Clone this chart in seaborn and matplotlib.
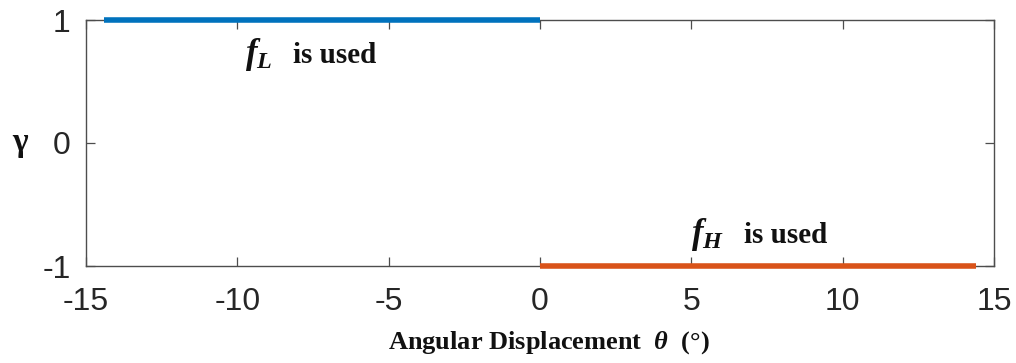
import matplotlib
matplotlib.use("Agg")
import matplotlib.pyplot as plt
import seaborn as sns
import pandas as pd

# Switching curve: gamma = +1 for negative displacement (low frequency),
# gamma = -1 for positive displacement (high frequency)
theta_low = [-14.4, 0.0]
gamma_low = [1, 1]
theta_high = [0.0, 14.4]
gamma_high = [-1, -1]

x_ticks = [-15, -10, -5, 0, 5, 10, 15]
y_ticks = [-1, 0, 1]

sns.set_theme(style="white")
plt.rcParams["font.family"] = ["Liberation Sans", "DejaVu Sans"]
plt.rcParams["axes.unicode_minus"] = False
plt.rcParams["mathtext.fontset"] = "custom"
plt.rcParams["mathtext.rm"] = "Liberation Serif:bold"
plt.rcParams["mathtext.it"] = "Liberation Serif:italic:bold"
plt.rcParams["mathtext.bf"] = "Liberation Serif:bold"

df_low = pd.DataFrame({"theta": theta_low, "gamma": gamma_low})
df_high = pd.DataFrame({"theta": theta_high, "gamma": gamma_high})

fig = plt.figure(figsize=(10.16, 3.63), dpi=100)
ax = fig.add_axes([86 / 1016, 1 - 266 / 363, 908 / 1016, 246 / 363])

sns.lineplot(data=df_low, x="theta", y="gamma", ax=ax, color="#0072BD",
             linewidth=4.0, clip_on=False, zorder=5, solid_capstyle="butt")
sns.lineplot(data=df_high, x="theta", y="gamma", ax=ax, color="#D95319",
             linewidth=4.0, clip_on=False, zorder=5, solid_capstyle="butt")

ax.set_xlim(-15, 15)
ax.set_ylim(-1, 1)
ax.set_xticks(x_ticks)
ax.set_yticks(y_ticks)
ax.set_xticklabels([str(v) for v in x_ticks])
ax.set_yticklabels([str(v) for v in y_ticks])

for side in ["top", "bottom", "left", "right"]:
    ax.spines[side].set_visible(True)
    ax.spines[side].set_color("#4d4d4d")
    ax.spines[side].set_linewidth(1.0)

ax.tick_params(axis="both", which="both", direction="in", length=6.5,
               width=0.9, color="#4d4d4d", labelsize=23, labelcolor="#262626",
               top=True, right=True, bottom=True, left=True)
ax.tick_params(axis="x", pad=15)
ax.tick_params(axis="y", pad=11)

serif = ["Liberation Serif", "DejaVu Serif"]
ax.set_xlabel(r"Angular Displacement  $\theta$  (°)", fontsize=19,
              fontweight="bold", family=serif, color="#111111")
ax.xaxis.set_label_coords(0.51, -0.255)
ax.xaxis.label.set_va("top")

ax.set_ylabel("γ", fontsize=24, rotation=0, fontweight="bold", family=serif,
              color="#111111")
ax.yaxis.set_label_coords(-0.073, 0.5)
ax.yaxis.label.set_va("center")

# Annotations: frequency symbol plus caption
txt = dict(fontweight="bold", family=serif, color="#111111",
           ha="left", va="baseline")
ax.text(-9.75, 0.65, r"$f_L$", fontsize=25, **txt)
ax.text(-8.17, 0.65, "is used", fontsize=21, **txt)
ax.text(5.0, -0.81, r"$f_H$", fontsize=25, **txt)
ax.text(6.74, -0.81, "is used", fontsize=21, **txt)

fig.savefig("out.png", dpi=100)
